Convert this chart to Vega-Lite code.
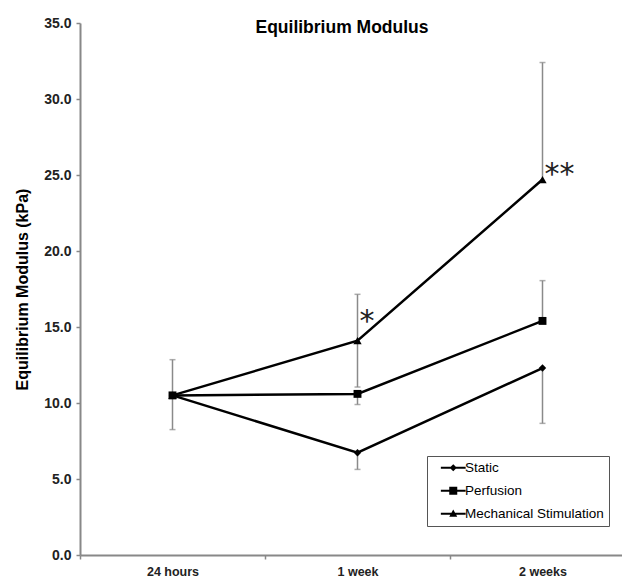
{
  "$schema": "https://vega.github.io/schema/vega-lite/v6.json",
  "width": 542,
  "height": 532,
  "autosize": "none",
  "padding": {"left": 80, "top": 23, "right": 0, "bottom": 23},
  "background": "white",
  "config": {
    "view": {"stroke": null},
    "font": "Liberation Sans"
  },
  "title": {
    "text": "Equilibrium Modulus",
    "font": "Liberation Sans",
    "fontSize": 17.5,
    "fontWeight": "bold",
    "color": "black",
    "anchor": "middle",
    "frame": "group",
    "offset": 0,
    "dy": 20,
    "dx": -9
  },
  "datasets": {
    "means": [
      {"time": "24 hours", "series": "Static", "value": 10.5},
      {"time": "1 week", "series": "Static", "value": 6.73},
      {"time": "2 weeks", "series": "Static", "value": 12.3},
      {"time": "24 hours", "series": "Perfusion", "value": 10.5},
      {"time": "1 week", "series": "Perfusion", "value": 10.6},
      {"time": "2 weeks", "series": "Perfusion", "value": 15.4},
      {"time": "24 hours", "series": "Mechanical Stimulation", "value": 10.5},
      {"time": "1 week", "series": "Mechanical Stimulation", "value": 14.1},
      {"time": "2 weeks", "series": "Mechanical Stimulation", "value": 24.7}
    ],
    "errors": [
      {"time": "24 hours", "series": "Static", "mean": 10.5, "end": 12.85},
      {"time": "24 hours", "series": "Static", "mean": 10.5, "end": 8.25},
      {"time": "1 week", "series": "Mechanical Stimulation", "mean": 14.1, "end": 17.15},
      {"time": "1 week", "series": "Mechanical Stimulation", "mean": 14.1, "end": 11.05},
      {"time": "1 week", "series": "Perfusion", "mean": 10.6, "end": 9.9},
      {"time": "1 week", "series": "Static", "mean": 6.73, "end": 5.63},
      {"time": "2 weeks", "series": "Mechanical Stimulation", "mean": 24.7, "end": 32.4},
      {"time": "2 weeks", "series": "Perfusion", "mean": 15.4, "end": 18.05},
      {"time": "2 weeks", "series": "Static", "mean": 12.3, "end": 8.66}
    ],
    "marks": [
      {"time": "1 week", "label": "*", "value": 14.75},
      {"time": "2 weeks", "label": "**", "value": 24.4}
    ]
  },
  "encoding": {
    "x": {
      "field": "time",
      "type": "nominal",
      "sort": ["24 hours", "1 week", "2 weeks"],
      "scale": {"domain": ["24 hours", "1 week", "2 weeks"], "range": [0, 555], "paddingInner": 0, "paddingOuter": 0},
      "axis": {
        "title": null,
        "labelAngle": 0,
        "labelFont": "Liberation Sans",
        "labelFontSize": 12.5,
        "labelFontWeight": "bold",
        "labelColor": "#222",
        "labelPadding": 6,
        "tickBand": "extent",
        "tickSize": 4,
        "tickColor": "#888",
        "tickWidth": 1.5,
        "domainColor": "#888",
        "domainWidth": 2,
        "grid": false
      }
    }
  },
  "layer": [
    {
      "data": {"name": "errors"},
      "mark": {"type": "rule", "color": "#8a8a8a", "strokeWidth": 1.5},
      "encoding": {
        "y": {"field": "mean", "type": "quantitative"},
        "y2": {"field": "end"}
      }
    },
    {
      "data": {"name": "errors"},
      "mark": {"type": "tick", "color": "#8a8a8a", "size": 6, "thickness": 1.5},
      "encoding": {
        "y": {"field": "end", "type": "quantitative"}
      }
    },
    {
      "data": {"name": "means"},
      "mark": {"type": "line", "color": "black", "strokeWidth": 2.5},
      "encoding": {
        "y": {
          "field": "value",
          "type": "quantitative",
          "scale": {"domain": [0, 35], "nice": false, "zero": true},
          "axis": {
            "title": "Equilibrium Modulus (kPa)",
            "titleFont": "Liberation Sans",
            "titleFontSize": 16,
            "titleFontWeight": "bold",
            "titleColor": "black",
            "titlePadding": 13,
            "values": [0, 5, 10, 15, 20, 25, 30, 35],
            "format": ".1f",
            "labelFont": "Liberation Sans",
            "labelFontSize": 14,
            "labelFontWeight": "bold",
            "labelColor": "#222",
            "labelPadding": 5,
            "tickSize": 4,
            "tickColor": "#888",
            "tickWidth": 1.5,
            "domainColor": "#888",
            "domainWidth": 2,
            "grid": false
          }
        },
        "detail": {"field": "series"}
      }
    },
    {
      "data": {"name": "means"},
      "mark": {"type": "point", "filled": true, "color": "black", "opacity": 1},
      "encoding": {
        "y": {"field": "value", "type": "quantitative"},
        "shape": {
          "field": "series",
          "type": "nominal",
          "scale": {"domain": ["Static", "Perfusion", "Mechanical Stimulation"], "range": ["diamond", "square", "triangle-up"]},
          "legend": null
        },
        "size": {
          "field": "series",
          "type": "nominal",
          "scale": {"domain": ["Static", "Perfusion", "Mechanical Stimulation"], "range": [55, 70, 60]},
          "legend": null
        }
      }
    },
    {
      "data": {"name": "marks"},
      "mark": {"type": "text", "font": "DejaVu Sans", "fontSize": 30, "align": "left", "baseline": "alphabetic", "dx": 2, "color": "#222"},
      "encoding": {
        "y": {"field": "value", "type": "quantitative"},
        "text": {"field": "label"}
      }
    },
    {
      "data": {"name": "means"},
      "transform": [{"filter": {"field": "series", "equal": "none"}}],
      "mark": {"type": "point", "filled": true, "color": "black"},
      "encoding": {
        "shape": {
          "field": "series",
          "type": "nominal",
          "scale": {
            "domain": ["Static", "Perfusion", "Mechanical Stimulation"],
            "range": [
              "M-3.1,-0.25H3.1V0.25H-3.1ZM0,-0.9L0.9,0L0,0.9L-0.9,0Z",
              "M-3.1,-0.25H3.1V0.25H-3.1ZM-1,-1H1V1H-1Z",
              "M-3.1,-0.25H3.1V0.25H-3.1ZM0,-1.05L1,0.75L-1,0.75Z"
            ]
          },
          "legend": {
            "title": null,
            "orient": "none",
            "legendX": 347,
            "legendY": 433,
            "fillColor": "white",
            "strokeColor": "#555",
            "padding": 5,
            "labelFont": "Liberation Sans",
            "labelFontSize": 13.5,
            "labelColor": "black",
            "labelOffset": 5,
            "symbolOffset": 14.5,
            "symbolSize": 64,
            "symbolFillColor": "black",
            "symbolStrokeColor": "black",
            "symbolStrokeWidth": 0,
            "symbolOpacity": 1,
            "rowPadding": 8
          }
        }
      }
    }
  ],
  "resolve": {"scale": {"shape": "independent", "size": "independent"}, "legend": {"shape": "independent"}}
}
